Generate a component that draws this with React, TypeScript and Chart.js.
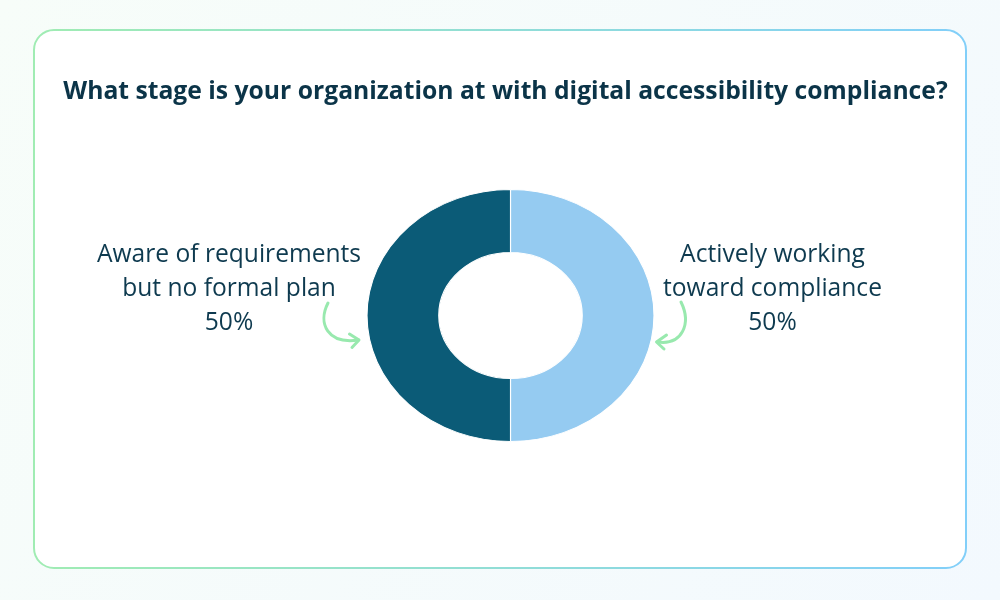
import React, { useEffect, useRef } from "react";
import { Chart, registerables } from "chart.js";

Chart.register(...registerables);

const titleText = "What stage is your organization at with digital accessibility compliance?";
const categories = ["Actively working toward compliance", "Aware of requirements but no formal plan"];
const labelLines = [
  ["Actively working", "toward compliance"],
  ["Aware of requirements", "but no formal plan"],
];
const values = [50, 50];
const sliceColors = ["#95CBF1", "#0B5B77"];

const SX = 143.5 / 126;

const decor = {
  id: "decor",
  beforeDraw(chart: any) {
    const ctx = chart.ctx as CanvasRenderingContext2D;
    const W = chart.width, H = chart.height;
    ctx.save();
    const bg = ctx.createLinearGradient(0, 0, W, H);
    bg.addColorStop(0, "#F7FDF9");
    bg.addColorStop(1, "#F3F9FE");
    ctx.fillStyle = bg;
    ctx.fillRect(0, 0, W, H);
    // card
    const x = 34, y = 30, w = 932, h = 538, r = 20;
    ctx.beginPath();
    ctx.roundRect(x, y, w, h, r);
    ctx.fillStyle = "#FFFFFF";
    ctx.fill();
    const bd = ctx.createLinearGradient(x, 0, x + w, 0);
    bd.addColorStop(0, "#A0ECB3");
    bd.addColorStop(1, "#82CFF9");
    ctx.strokeStyle = bd;
    ctx.lineWidth = 2;
    ctx.stroke();
    // title
    ctx.fillStyle = "#0B3448";
    ctx.font = "bold 24.7px 'Open Sans'";
    ctx.textAlign = "center";
    ctx.textBaseline = "alphabetic";
    ctx.fillText(titleText, 505.5, 99);
    ctx.restore();
  },
  beforeDatasetsDraw(chart: any) {
    const ctx = chart.ctx as CanvasRenderingContext2D;
    const arc = chart.getDatasetMeta(0).data[0];
    ctx.save();
    ctx.translate(arc.x, arc.y);
    ctx.scale(SX, 1);
    ctx.translate(-arc.x, -arc.y);
  },
  afterDatasetsDraw(chart: any) {
    chart.ctx.restore();
  },
  afterDraw(chart: any) {
    const ctx = chart.ctx as CanvasRenderingContext2D;
    const arc = chart.getDatasetMeta(0).data[0];
    const cx = arc.x, cy = arc.y;
    const total = values.reduce((a, b) => a + b, 0);
    ctx.save();
    ctx.fillStyle = "#0E3A4F";
    ctx.font = "24.6px 'Open Sans'";
    ctx.textAlign = "center";
    ctx.textBaseline = "alphabetic";
    const pos = [cx + 262, cx - 281.5];
    labelLines.forEach((lines, i) => {
      const pct = Math.round((values[i] / total) * 100) + "%";
      const all = [...lines, pct];
      all.forEach((t, j) => ctx.fillText(t, pos[i], cy - 53.5 + j * 34));
    });
    // arrows
    ctx.strokeStyle = "#98E9AE";
    ctx.lineWidth = 3;
    ctx.lineCap = "round";
    ctx.lineJoin = "round";
    // left arrow
    ctx.beginPath();
    ctx.moveTo(cx - 182.5, cy - 12.5);
    ctx.bezierCurveTo(cx - 193, cy + 8, cx - 183, cy + 29, cx - 152, cy + 24.5);
    ctx.stroke();
    ctx.beginPath();
    ctx.moveTo(cx - 161, cy + 18.5);
    ctx.lineTo(cx - 151.5, cy + 24.5);
    ctx.lineTo(cx - 158.5, cy + 32);
    ctx.stroke();
    // right arrow
    ctx.beginPath();
    ctx.moveTo(cx + 170.5, cy - 13.5);
    ctx.bezierCurveTo(cx + 181, cy + 8, cx + 172, cy + 30, cx + 147, cy + 26.5);
    ctx.stroke();
    ctx.beginPath();
    ctx.moveTo(cx + 156, cy + 19.5);
    ctx.lineTo(cx + 146, cy + 26.5);
    ctx.lineTo(cx + 153.5, cy + 33.5);
    ctx.stroke();
    ctx.restore();
  },
};

export default function App() {
  const ref = useRef<HTMLCanvasElement>(null);
  useEffect(() => {
    if (!ref.current) return;
    const chart = new Chart(ref.current, {
      type: "doughnut",
      data: {
        labels: categories,
        datasets: [
          {
            data: values,
            backgroundColor: sliceColors,
            borderColor: "#FFFFFF",
            borderWidth: 1,
          },
        ],
      },
      options: {
        responsive: false,
        animation: false,
        cutout: "50%",
        layout: { padding: { left: 384, right: 363, top: 189, bottom: 158 } },
        plugins: {
          legend: { display: false },
          tooltip: { enabled: false },
          title: { display: false },
        },
      },
      plugins: [decor],
    });
    return () => chart.destroy();
  }, []);
  return (
    <div style={{ position: "fixed", left: 0, top: 0, width: 1000, height: 600 }}>
      <canvas ref={ref} width={1000} height={600} style={{ display: "block", width: 1000, height: 600 }} />
    </div>
  );
}
